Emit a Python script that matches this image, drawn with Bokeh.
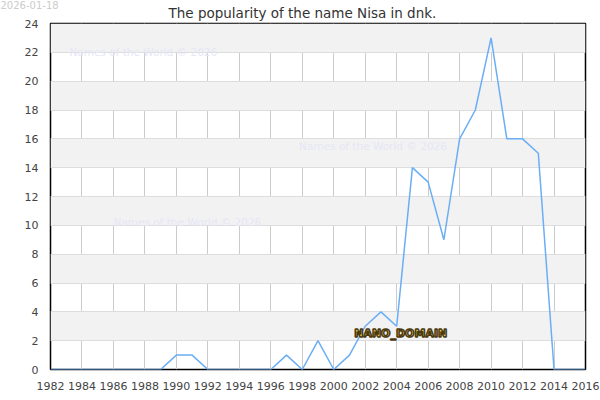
from bokeh.plotting import figure
from bokeh.models import Range1d, FixedTicker, Label, Title
from bokeh.embed import file_html
from bokeh.resources import INLINE

years = list(range(1982, 2017))
counts = [0, 0, 0, 0, 0, 0, 0, 0, 1, 1, 0, 0, 0, 0, 0, 1, 0, 2, 0, 1,
          3, 4, 3, 14, 13, 9, 16, 18, 23, 16, 16, 15, 0, 0, 0]
x_ticks = list(range(1982, 2017, 2))
y_ticks = list(range(0, 25, 2))
title_text = "The popularity of the name Nisa in dnk."
date_text = "2026-01-18"
watermark = "Names of the World © 2026"
domain_text = "NANO_DOMAIN"

p = figure(width=600, height=400, output_backend="svg", toolbar_location=None,
           x_range=Range1d(1982, 2016), y_range=Range1d(0, 24),
           min_border_left=50, min_border_right=15, min_border_top=0,
           min_border_bottom=31)
p.outline_line_color = "black"
p.outline_line_width = 1.5
p.background_fill_color = "white"

# outermost row: the date
p.title.text = date_text
p.title.align = "left"
p.title.text_font = "DejaVu Sans"
p.title.text_font_size = "10px"
p.title.text_font_style = "normal"
p.title.text_color = "#cccccc"
p.title.offset = -50
p.title.standoff = -16

# inner row: the chart title
p.add_layout(Title(text=title_text, align="left", offset=118, standoff=5,
                   text_font="DejaVu Sans", text_font_size="13.5px",
                   text_font_style="normal", text_color="#333333"), "above")

p.xaxis.ticker = FixedTicker(ticks=x_ticks)
p.yaxis.ticker = FixedTicker(ticks=y_ticks)
for ax in (p.xaxis, p.yaxis):
    ax.axis_line_color = None
    ax.major_tick_line_color = None
    ax.minor_tick_line_color = None
    ax.major_label_text_font = "DejaVu Sans"
    ax.major_label_text_font_size = "11px"
    ax.major_label_text_color = "#444444"
    ax.major_label_standoff = 6

p.xgrid.ticker = FixedTicker(ticks=x_ticks)
p.ygrid.ticker = FixedTicker(ticks=y_ticks)
p.xgrid.grid_line_color = "#cccccc"
p.ygrid.grid_line_color = "#dddddd"
p.ygrid.band_fill_color = "#f2f2f2"
p.ygrid.band_fill_alpha = 1.0

p.line(years, counts, line_color="#6aaef5", line_width=1.5)

for (wx, wy) in [(1983.2, 22.0), (1997.8, 15.5), (1986.0, 10.2)]:
    p.add_layout(Label(x=wx, y=wy, text=watermark, text_font="DejaVu Sans",
                       text_font_size="10.5px", text_color="#e6e6f6",
                       text_baseline="middle"))

p.add_layout(Label(x=2001.3, y=2.5, text=domain_text, text_font="DejaVu Sans",
                   text_font_size="11px", text_font_style="bold",
                   text_color="#f0d070", text_outline_color="#4a3a10",
                   text_baseline="middle"))

open("out.html", "w").write(file_html(p, INLINE))
